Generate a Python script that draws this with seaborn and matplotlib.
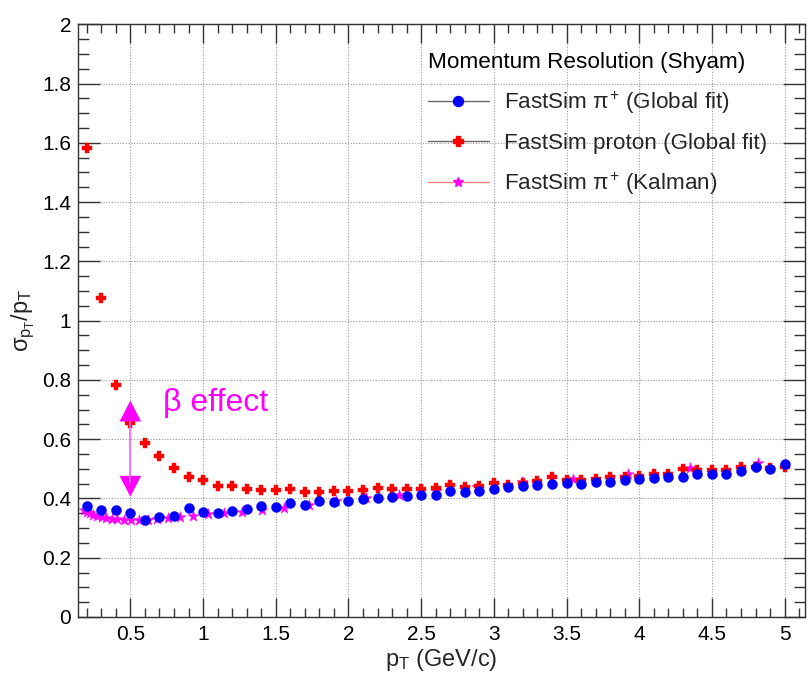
import numpy as np
import pandas as pd
import matplotlib
matplotlib.use("Agg")
import matplotlib.pyplot as plt
from matplotlib.lines import Line2D
from matplotlib.ticker import MultipleLocator, FixedLocator, FixedFormatter
import seaborn as sns

# ---------------- data ----------------
pt_global = [0.2, 0.3, 0.4, 0.5, 0.6, 0.7, 0.8, 0.9, 1.0, 1.1, 1.2, 1.3, 1.4, 1.5,
             1.6, 1.7, 1.8, 1.9, 2.0, 2.1, 2.2, 2.3, 2.4, 2.5, 2.6, 2.7, 2.8, 2.9,
             3.0, 3.1, 3.2, 3.3, 3.4, 3.5, 3.6, 3.7, 3.8, 3.9, 4.0, 4.1, 4.2, 4.3,
             4.4, 4.5, 4.6, 4.7, 4.8, 4.9, 5.0]
res_pion_global = [0.374, 0.361, 0.361, 0.350, 0.327, 0.336, 0.341, 0.367, 0.353, 0.352,
                   0.358, 0.364, 0.376, 0.372, 0.386, 0.378, 0.392, 0.389, 0.392, 0.397,
                   0.400, 0.406, 0.408, 0.412, 0.412, 0.426, 0.423, 0.426, 0.432, 0.437,
                   0.441, 0.445, 0.448, 0.453, 0.448, 0.455, 0.455, 0.462, 0.465, 0.470,
                   0.473, 0.473, 0.484, 0.484, 0.484, 0.493, 0.507, 0.498, 0.515]
res_proton_global = [1.582, 1.076, 0.784, 0.655, 0.586, 0.543, 0.502, 0.473, 0.462, 0.442,
                     0.442, 0.432, 0.428, 0.428, 0.432, 0.423, 0.423, 0.426, 0.426, 0.428,
                     0.434, 0.431, 0.431, 0.432, 0.436, 0.445, 0.440, 0.442, 0.453, 0.445,
                     0.453, 0.460, 0.471, 0.462, 0.462, 0.464, 0.471, 0.471, 0.476, 0.482,
                     0.482, 0.498, 0.497, 0.497, 0.497, 0.505, 0.507, 0.502, 0.507]
pt_kalman = [0.178, 0.20, 0.222, 0.246, 0.273, 0.302, 0.335, 0.371, 0.411, 0.455,
             0.504, 0.559, 0.619, 0.686, 0.760, 0.842, 0.933, 1.034, 1.146, 1.270,
             1.407, 1.559, 1.727, 1.914, 2.121, 2.350, 2.604, 2.885, 3.197, 3.543,
             3.925, 4.350, 4.820]
res_pion_kalman = [0.361, 0.355, 0.350, 0.344, 0.340, 0.336, 0.333, 0.331, 0.330, 0.328,
                   0.327, 0.327, 0.328, 0.330, 0.335, 0.339, 0.341, 0.347, 0.350, 0.355,
                   0.361, 0.369, 0.378, 0.390, 0.400, 0.412, 0.425, 0.440, 0.456, 0.464,
                   0.482, 0.502, 0.521]

x_major_ticks = [0.5, 1, 1.5, 2, 2.5, 3, 3.5, 4, 4.5, 5]
x_tick_labels = ["0.5", "1", "1.5", "2", "2.5", "3", "3.5", "4", "4.5", "5"]
y_major_ticks = [0, 0.2, 0.4, 0.6, 0.8, 1.0, 1.2, 1.4, 1.6, 1.8, 2.0]
y_tick_labels = ["0", "0.2", "0.4", "0.6", "0.8", "1", "1.2", "1.4", "1.6", "1.8", "2"]

legend_title = "Momentum Resolution (Shyam)"
label_pion_global = r"FastSim $\pi^{+}$ (Global fit)"
label_proton_global = "FastSim proton (Global fit)"
label_pion_kalman = r"FastSim $\pi^{+}$ (Kalman)"

df_global = pd.DataFrame({"pt": pt_global, "pion": res_pion_global, "proton": res_proton_global})
df_kalman = pd.DataFrame({"pt": pt_kalman, "res": res_pion_kalman})

# ---------------- style ----------------
sns.set_theme(style="white")
plt.rcParams["font.family"] = ["Liberation Sans", "DejaVu Sans"]
plt.rcParams["mathtext.fontset"] = "custom"
plt.rcParams["mathtext.rm"] = "Liberation Sans"
plt.rcParams["mathtext.it"] = "Liberation Sans"
plt.rcParams["mathtext.bf"] = "Liberation Sans:bold"

FS_TICK = 15
FS_LEG = 16.2
FS_LAB = 17
BLUE = "#0000ff"
RED = "#ff0000"
MAG = "#ff00ff"

fig = plt.figure(figsize=(8.09, 6.81), dpi=100)
ax = fig.add_axes([78.3 / 809, 1 - 617 / 681, (805 - 78.3) / 809, (617 - 24.3) / 681])

# Kalman first (underneath), then proton, then pion
sns.scatterplot(data=df_kalman, x="pt", y="res", ax=ax, marker="*", s=8.5 ** 2,
                color=MAG, edgecolor=MAG, linewidth=0.3, zorder=3, legend=False)
sns.scatterplot(data=df_global, x="pt", y="proton", ax=ax, marker="P", s=7.5 ** 2,
                color=RED, edgecolor=RED, linewidth=0.3, zorder=4, legend=False)
sns.scatterplot(data=df_global, x="pt", y="pion", ax=ax, marker="o", s=7.2 ** 2,
                color=BLUE, edgecolor=BLUE, linewidth=0.3, zorder=5, legend=False)

ax.set_xlim(0.142, 5.14)
ax.set_ylim(0, 2)

# ticks
ax.xaxis.set_major_locator(FixedLocator(x_major_ticks))
ax.xaxis.set_major_formatter(FixedFormatter(x_tick_labels))
ax.yaxis.set_major_locator(FixedLocator(y_major_ticks))
ax.yaxis.set_major_formatter(FixedFormatter(y_tick_labels))
ax.xaxis.set_minor_locator(MultipleLocator(0.1))
ax.yaxis.set_minor_locator(MultipleLocator(0.05))
ax.tick_params(axis="both", which="both", direction="in", top=True, right=True,
               bottom=True, left=True, colors="#333333", labelcolor="black",
               labelsize=FS_TICK, width=1.0)
ax.tick_params(axis="x", which="major", length=13.5, pad=6)
ax.tick_params(axis="x", which="minor", length=6.8)
ax.tick_params(axis="y", which="major", length=15.8, pad=5)
ax.tick_params(axis="y", which="minor", length=7.9)

for sp in ax.spines.values():
    sp.set_visible(True)
    sp.set_color("#333333")
    sp.set_linewidth(1.0)

ax.grid(True, which="major", color="#999999", linestyle=(0, (1, 1.5)), linewidth=0.8)
ax.set_axisbelow(True)

ax.set_xlabel(r"$p_{T}$ (GeV/c)", fontsize=FS_LAB, labelpad=2)
ax.set_ylabel(r"$\sigma_{p_{T}}/p_{T}$", fontsize=FS_LAB, labelpad=4)

# beta effect annotation
ax.annotate("", xy=(0.5, 0.406), xytext=(0.5, 0.730),
            arrowprops=dict(arrowstyle="<|-|>,head_length=1.5,head_width=0.78",
                            mutation_scale=10, color=MAG, lw=0, shrinkA=0, shrinkB=0),
            zorder=6)
ax.plot([0.5, 0.5], [0.456, 0.659], color="#ff66ff", lw=1.3, zorder=6)
ax.text(0.725, 0.722, r"β effect", color=MAG, fontsize=23, ha="left", va="center")

# legend
handles = [
    Line2D([], [], color="#666666", lw=1.0, marker="o", ms=7.2, mfc=BLUE, mec=BLUE),
    Line2D([], [], color="#666666", lw=1.0, marker="P", ms=7.5, mfc=RED, mec=RED),
    Line2D([], [], color="#ff8080", lw=1.0, marker="*", ms=7.5, mfc=MAG, mec=MAG),
]
labels = [label_pion_global, label_proton_global, label_pion_kalman]
leg = ax.legend(handles, labels, title=legend_title, loc="upper left",
                bbox_to_anchor=(428 / 809, 1 - 52 / 681), bbox_transform=fig.transFigure,
                frameon=False, fontsize=FS_LEG, title_fontsize=FS_LEG, borderpad=0,
                borderaxespad=0, handlelength=2.7, handletextpad=0.68,
                labelspacing=0.74, alignment="left")
leg.get_title().set_color("black")

fig.savefig("out.png", dpi=100)
